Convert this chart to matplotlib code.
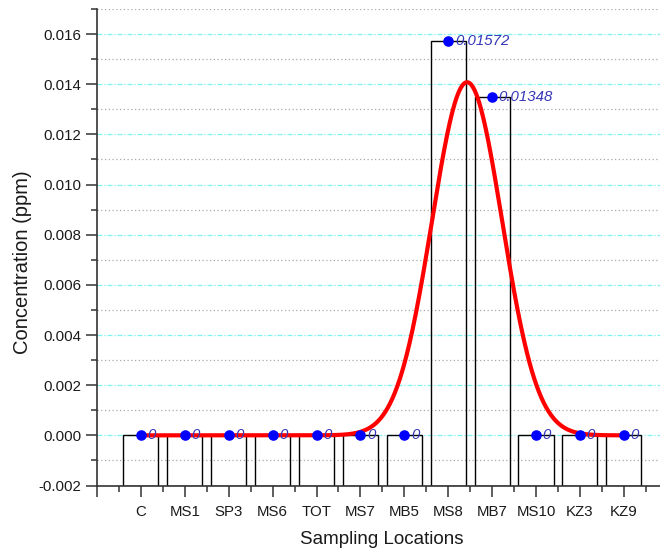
import numpy as np
import matplotlib
matplotlib.use("Agg")
import matplotlib.pyplot as plt
from matplotlib.ticker import MultipleLocator, FixedLocator, FixedFormatter

# ---- data ----
categories = ["C", "MS1", "SP3", "MS6", "TOT", "MS7", "MB5", "MS8", "MB7", "MS10", "KZ3", "KZ9"]
values = [0, 0, 0, 0, 0, 0, 0, 0.01572, 0.01348, 0, 0, 0]
value_labels = ["0", "0", "0", "0", "0", "0", "0", "0.01572", "0.01348", "0", "0", "0"]
# Gaussian fit curve parameters
fit_y0 = 0.0
fit_amp = 0.01408
fit_xc = 8.43
fit_sigma = 0.80

plt.rcParams['font.family'] = ['Liberation Sans', 'DejaVu Sans']

W, H = 660, 554
fig = plt.figure(figsize=(W / 100, H / 100), dpi=100)
px_per_unit = 43.9
left_px, right_px = 97, 97 + 13 * px_per_unit
top_px, bot_px = 9, 485.5
ax = fig.add_axes([left_px / W, 1 - bot_px / H, (right_px - left_px) / W, (bot_px - top_px) / H])

x = np.arange(1, len(categories) + 1)
ymin = -0.002

# grid
for yv in np.arange(0.0, 0.0170001, 0.002):
    ax.axhline(yv, color='#7ff2f2', lw=0.9, ls=(0, (4, 1.5, 1, 1.5)), zorder=0)
for yv in np.arange(-0.001, 0.0170001, 0.002):
    ax.axhline(yv, color='#a8a8a8', lw=0.9, ls=(0, (1, 2)), zorder=0)

# bars (from axis bottom)
ax.bar(x, np.array(values) - ymin, bottom=ymin, width=0.8, fill=False,
       edgecolor='black', linewidth=1.0, zorder=2)

# fit curve
xf = np.linspace(1, 12, 600)
yf = fit_y0 + fit_amp * np.exp(-(xf - fit_xc) ** 2 / (2 * fit_sigma ** 2))
ax.plot(xf, yf, color='#ff0000', lw=3.0, zorder=3, solid_capstyle='butt')

# points and labels
ax.plot(x, values, 'o', color='#0000ff', markersize=6.6, zorder=4)
for xi, vi, lab in zip(x, values, value_labels):
    ax.annotate(lab, (xi, vi), xytext=(4.8, 0), textcoords='offset points',
                ha='left', va='center', fontsize=10.8, style='italic',
                color='#3636b8', zorder=5)

ax.set_xlim(0, 13)
ax.set_ylim(ymin, 0.017)

ax.spines['top'].set_visible(False)
ax.spines['right'].set_visible(False)
for s in ('left', 'bottom'):
    ax.spines[s].set_linewidth(1.2)
    ax.spines[s].set_color('#333333')

ax.xaxis.set_major_locator(FixedLocator(list(range(0, 14))))
ax.xaxis.set_major_formatter(FixedFormatter([""] + categories + [""]))
ax.xaxis.set_minor_locator(FixedLocator([i + 0.5 for i in range(0, 13)]))
ax.yaxis.set_major_locator(MultipleLocator(0.002))
ax.yaxis.set_minor_locator(MultipleLocator(0.001))
ax.yaxis.set_major_formatter(matplotlib.ticker.FuncFormatter(lambda v, p: f"{v:.3f}"))

ax.tick_params(axis='both', which='major', direction='out', length=8, width=1.1,
               color='#333333', labelsize=10.8, labelcolor='#1a1a1a')
ax.tick_params(axis='both', which='minor', direction='out', length=4.5, width=1.1, color='#333333')
ax.tick_params(axis='x', which='major', pad=6)
ax.tick_params(axis='y', which='major', pad=3)

fig.text(23 / W, 1 - 262 / H, "Concentration (ppm)", rotation=90, ha='center', va='center',
         fontsize=14.5, color='#1a1a1a')
fig.text(382 / W, 1 - 540 / H, "Sampling Locations", ha='center', va='center',
         fontsize=13.5, color='#1a1a1a')

fig.savefig("out.png", dpi=100)
